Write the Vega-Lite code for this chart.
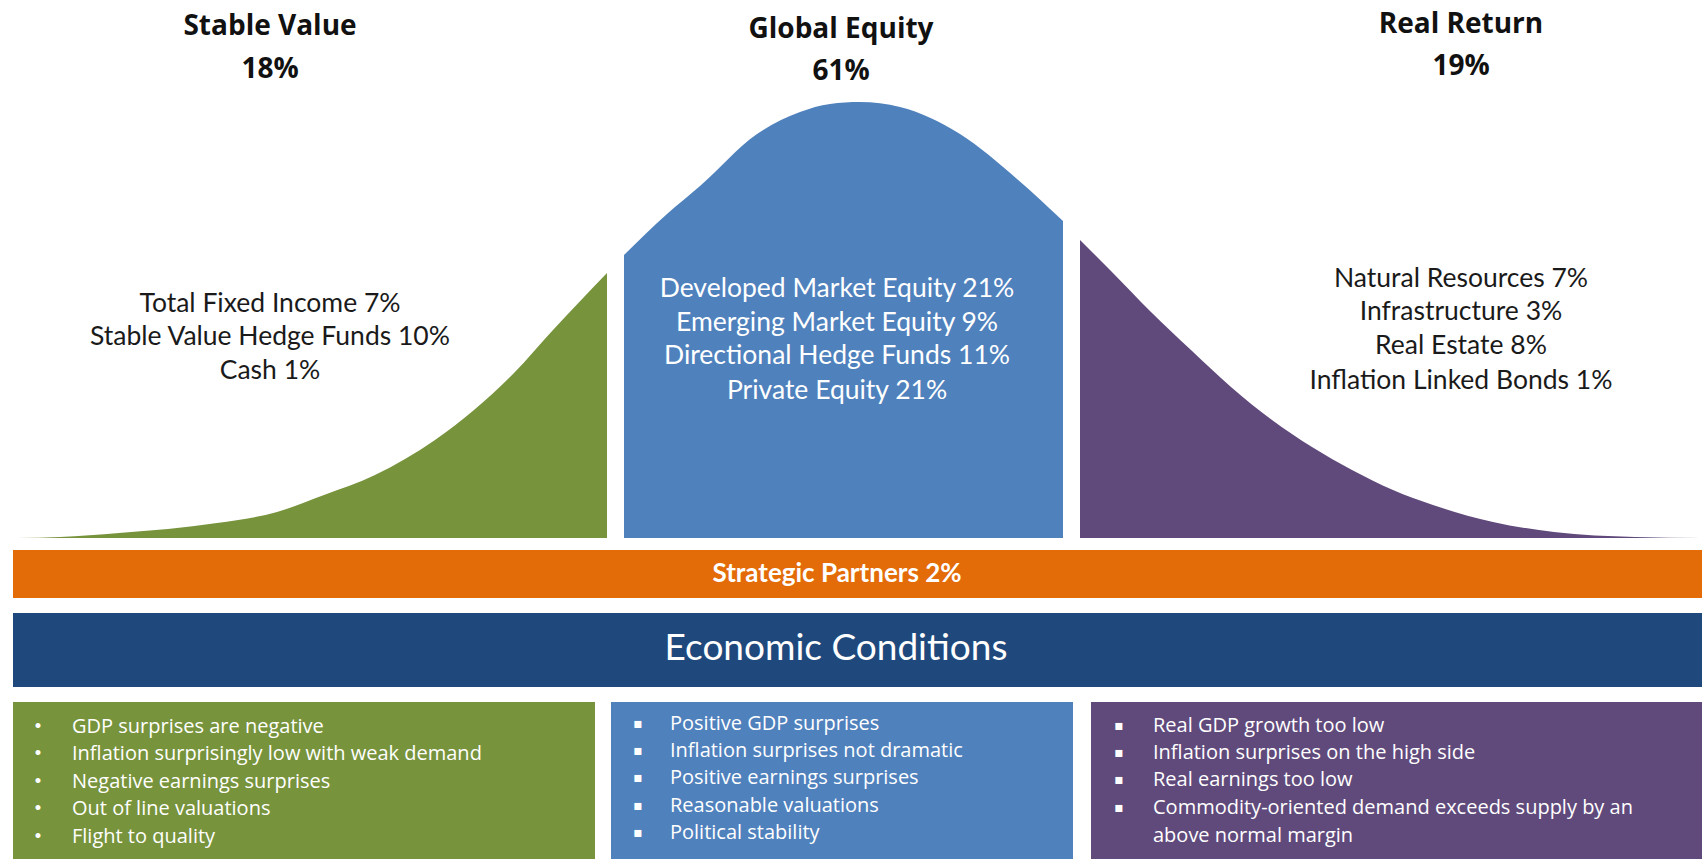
{
  "$schema": "https://vega.github.io/schema/vega-lite/v6.json",
  "autosize": {"type": "fit", "contains": "padding"},
  "width": 1702,
  "height": 859,
  "padding": 0,
  "background": "white",
  "config": {"view": {"stroke": null}, "axis": {"disable": true}},
  "datasets": {
    "curves": [
      {"group": "Stable Value", "x": 17, "y": 538},
      {"group": "Stable Value", "x": 60, "y": 537},
      {"group": "Stable Value", "x": 119, "y": 533},
      {"group": "Stable Value", "x": 217, "y": 523},
      {"group": "Stable Value", "x": 277, "y": 512},
      {"group": "Stable Value", "x": 324, "y": 495},
      {"group": "Stable Value", "x": 375, "y": 475},
      {"group": "Stable Value", "x": 435, "y": 440},
      {"group": "Stable Value", "x": 474, "y": 410},
      {"group": "Stable Value", "x": 514, "y": 373},
      {"group": "Stable Value", "x": 553, "y": 330},
      {"group": "Stable Value", "x": 607, "y": 273},
      {"group": "Global Equity", "x": 624, "y": 255},
      {"group": "Global Equity", "x": 667, "y": 214},
      {"group": "Global Equity", "x": 700, "y": 186},
      {"group": "Global Equity", "x": 757, "y": 134},
      {"group": "Global Equity", "x": 800, "y": 112},
      {"group": "Global Equity", "x": 830, "y": 104},
      {"group": "Global Equity", "x": 860, "y": 102},
      {"group": "Global Equity", "x": 900, "y": 107},
      {"group": "Global Equity", "x": 960, "y": 134},
      {"group": "Global Equity", "x": 1017, "y": 179},
      {"group": "Global Equity", "x": 1063, "y": 221},
      {"group": "Real Return", "x": 1080, "y": 240},
      {"group": "Real Return", "x": 1110, "y": 270},
      {"group": "Real Return", "x": 1151, "y": 312},
      {"group": "Real Return", "x": 1191, "y": 350},
      {"group": "Real Return", "x": 1231, "y": 387},
      {"group": "Real Return", "x": 1272, "y": 420},
      {"group": "Real Return", "x": 1312, "y": 447},
      {"group": "Real Return", "x": 1352, "y": 470},
      {"group": "Real Return", "x": 1393, "y": 490},
      {"group": "Real Return", "x": 1433, "y": 505},
      {"group": "Real Return", "x": 1493, "y": 522},
      {"group": "Real Return", "x": 1554, "y": 532},
      {"group": "Real Return", "x": 1635, "y": 537},
      {"group": "Real Return", "x": 1702, "y": 538}
    ],
    "bands": [
      {"group": "Strategic Partners", "x": 13, "x2": 1702, "y": 550, "y2": 598},
      {"group": "Economic Conditions", "x": 13, "x2": 1702, "y": 613, "y2": 687},
      {"group": "Stable Value", "x": 13, "x2": 595, "y": 702, "y2": 859},
      {"group": "Global Equity", "x": 611, "x2": 1073, "y": 702, "y2": 859},
      {"group": "Real Return", "x": 1091, "x2": 1702, "y": 702, "y2": 859}
    ],
    "titles": [
      {"label": "Stable Value", "x": 270, "y": 27},
      {"label": "18%", "x": 270, "y": 70},
      {"label": "Global Equity", "x": 841, "y": 30},
      {"label": "61%", "x": 841, "y": 72},
      {"label": "Real Return", "x": 1461, "y": 25},
      {"label": "19%", "x": 1461, "y": 67}
    ],
    "holdingsDark": [
      {"label": "Total Fixed Income 7%", "x": 270, "y": 304},
      {"label": "Stable Value Hedge Funds 10%", "x": 270, "y": 337},
      {"label": "Cash 1%", "x": 270, "y": 371},
      {"label": "Natural Resources 7%", "x": 1461, "y": 279},
      {"label": "Infrastructure 3%", "x": 1461, "y": 312},
      {"label": "Real Estate 8%", "x": 1461, "y": 346},
      {"label": "Inflation Linked Bonds 1%", "x": 1461, "y": 381}
    ],
    "holdingsLight": [
      {"label": "Developed Market Equity 21%", "x": 837, "y": 289},
      {"label": "Emerging Market Equity 9%", "x": 837, "y": 323},
      {"label": "Directional Hedge Funds 11%", "x": 837, "y": 356},
      {"label": "Private Equity 21%", "x": 837, "y": 391}
    ],
    "partners": [{"label": "Strategic Partners 2%", "x": 837, "y": 574}],
    "econ": [{"label": "Economic Conditions", "x": 836, "y": 649}],
    "conditions": [
      {"bullet": "•", "bx": 38, "label": "GDP surprises are negative", "x": 72, "y": 727},
      {"bullet": "•", "bx": 38, "label": "Inflation surprisingly low with weak demand", "x": 72, "y": 754},
      {"bullet": "•", "bx": 38, "label": "Negative earnings surprises", "x": 72, "y": 782},
      {"bullet": "•", "bx": 38, "label": "Out of line valuations", "x": 72, "y": 809},
      {"bullet": "•", "bx": 38, "label": "Flight to quality", "x": 72, "y": 837},
      {"bullet": "▪", "bx": 638, "label": "Positive GDP surprises", "x": 670, "y": 724},
      {"bullet": "▪", "bx": 638, "label": "Inflation surprises not dramatic", "x": 670, "y": 751},
      {"bullet": "▪", "bx": 638, "label": "Positive earnings surprises", "x": 670, "y": 778},
      {"bullet": "▪", "bx": 638, "label": "Reasonable valuations", "x": 670, "y": 806},
      {"bullet": "▪", "bx": 638, "label": "Political stability", "x": 670, "y": 833},
      {"bullet": "▪", "bx": 1119, "label": "Real GDP growth too low", "x": 1153, "y": 726},
      {"bullet": "▪", "bx": 1119, "label": "Inflation surprises on the high side", "x": 1153, "y": 753},
      {"bullet": "▪", "bx": 1119, "label": "Real earnings too low", "x": 1153, "y": 780},
      {"bullet": "▪", "bx": 1119, "label": "Commodity-oriented demand exceeds supply by an", "x": 1153, "y": 808},
      {"bullet": "", "bx": 1119, "label": "above normal margin", "x": 1153, "y": 836}
    ]
  },
  "layer": [
    {
      "data": {"name": "bands"},
      "mark": {"type": "rect"},
      "encoding": {
        "x": {"field": "x", "type": "quantitative", "scale": {"domain": [0, 1702], "nice": false, "zero": false}, "axis": null},
        "x2": {"field": "x2"},
        "y": {"field": "y", "type": "quantitative", "scale": {"domain": [0, 859], "nice": false, "zero": false, "reverse": true}, "axis": null},
        "y2": {"field": "y2"},
        "color": {"field": "group", "type": "nominal", "legend": null,
          "scale": {"domain": ["Stable Value", "Global Equity", "Real Return", "Strategic Partners", "Economic Conditions"],
                    "range": ["#77933C", "#4F81BD", "#604A7B", "#E36C09", "#1F497D"]}}
      }
    },
    {
      "data": {"name": "curves"},
      "mark": {"type": "area", "interpolate": "monotone"},
      "encoding": {
        "x": {"field": "x", "type": "quantitative"},
        "y": {"field": "y", "type": "quantitative", "stack": null},
        "y2": {"datum": 538},
        "color": {"field": "group", "type": "nominal"}
      }
    },
    {
      "data": {"name": "titles"},
      "mark": {"type": "text", "font": "Open Sans", "fontSize": 28, "fontWeight": "bold", "color": "#111111", "align": "center", "baseline": "middle"},
      "encoding": {
        "x": {"field": "x", "type": "quantitative"},
        "y": {"field": "y", "type": "quantitative"},
        "text": {"field": "label"}
      }
    },
    {
      "data": {"name": "holdingsDark"},
      "mark": {"type": "text", "font": "Lato", "fontSize": 26.5, "color": "#1a1a1a", "align": "center", "baseline": "middle"},
      "encoding": {
        "x": {"field": "x", "type": "quantitative"},
        "y": {"field": "y", "type": "quantitative"},
        "text": {"field": "label"}
      }
    },
    {
      "data": {"name": "holdingsLight"},
      "mark": {"type": "text", "font": "Lato", "fontSize": 26.5, "color": "#ffffff", "align": "center", "baseline": "middle"},
      "encoding": {
        "x": {"field": "x", "type": "quantitative"},
        "y": {"field": "y", "type": "quantitative"},
        "text": {"field": "label"}
      }
    },
    {
      "data": {"name": "partners"},
      "mark": {"type": "text", "font": "Lato", "fontSize": 26, "fontWeight": "bold", "color": "#ffffff", "align": "center", "baseline": "middle"},
      "encoding": {
        "x": {"field": "x", "type": "quantitative"},
        "y": {"field": "y", "type": "quantitative"},
        "text": {"field": "label"}
      }
    },
    {
      "data": {"name": "econ"},
      "mark": {"type": "text", "font": "Lato", "fontSize": 37, "color": "#ffffff", "align": "center", "baseline": "middle"},
      "encoding": {
        "x": {"field": "x", "type": "quantitative"},
        "y": {"field": "y", "type": "quantitative"},
        "text": {"field": "label"}
      }
    },
    {
      "data": {"name": "conditions"},
      "mark": {"type": "text", "font": "DejaVu Sans", "fontSize": 14, "fontWeight": "bold", "color": "#ffffff", "align": "center", "baseline": "middle"},
      "encoding": {
        "x": {"field": "bx", "type": "quantitative"},
        "y": {"field": "y", "type": "quantitative"},
        "text": {"field": "bullet"}
      }
    },
    {
      "data": {"name": "conditions"},
      "mark": {"type": "text", "font": "Open Sans", "fontSize": 20, "color": "#ffffff", "align": "left", "baseline": "middle"},
      "encoding": {
        "x": {"field": "x", "type": "quantitative"},
        "y": {"field": "y", "type": "quantitative"},
        "text": {"field": "label"}
      }
    }
  ]
}
